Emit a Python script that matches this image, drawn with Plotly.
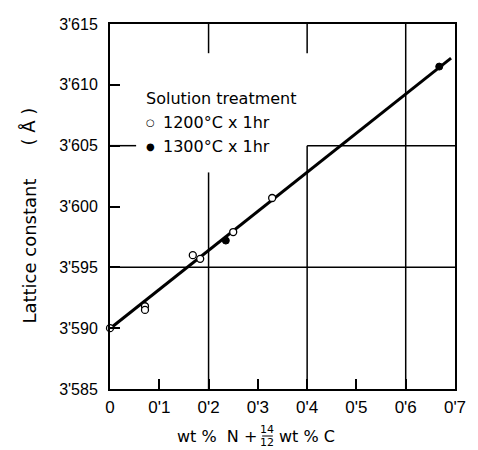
import plotly.graph_objects as go

# ---- data ----
open_x = [0.000, 0.071, 0.071, 0.168, 0.183, 0.250, 0.329]
open_y = [3.5900, 3.5918, 3.5915, 3.5960, 3.5957, 3.5979, 3.6007]
filled_x = [0.235, 0.668]
filled_y = [3.5972, 3.6115]
fit_x = [0.004, 0.692]
fit_y = [3.5901, 3.6122]

x_ticks = [0, 0.1, 0.2, 0.3, 0.4, 0.5, 0.6, 0.7]
x_ticktext = ["0", "0'1", "0'2", "0'3", "0'4", "0'5", "0'6", "0'7"]
y_ticks = [3.585, 3.590, 3.595, 3.600, 3.605, 3.610, 3.615]
y_ticktext = ["3'585", "3'590", "3'595", "3'600", "3'605", "3'610", "3'615"]

# partial grid / frame lines (x0, y0, x1, y1) in data units
grid_segments = [
    (0.2, 3.6028, 0.2, 3.585),
    (0.4, 3.605, 0.4, 3.585),
    (0.6, 3.615, 0.6, 3.585),
    (0.4, 3.605, 0.7, 3.605),
    (0.0, 3.605, 0.053, 3.605),
    (0.0, 3.595, 0.7, 3.595),
    (0.2, 3.615, 0.2, 3.6126),
    (0.4, 3.615, 0.4, 3.6126),
]

FONT = "Liberation Sans"
TFONT = "DejaVu Sans"
L, R, T, B = 110, 12, 24, 61
W, H = 478, 450
PW, PH = W - L - R, H - T - B


def px(xp):
    return (xp - L) / PW


def py(yp):
    return (H - B - yp) / PH


fig = go.Figure()
fig.add_trace(go.Scatter(x=fit_x, y=fit_y, mode="lines",
                         line=dict(color="black", width=3), showlegend=False,
                         hoverinfo="skip"))
fig.add_trace(go.Scatter(x=open_x, y=open_y, mode="markers", name="1200°C x 1hr",
                         marker=dict(symbol="circle", size=7, color="white",
                                     line=dict(color="black", width=1.3)),
                         cliponaxis=False, showlegend=False))
fig.add_trace(go.Scatter(x=filled_x, y=filled_y, mode="markers", name="1300°C x 1hr",
                         marker=dict(symbol="circle", size=7, color="black",
                                     line=dict(color="black", width=1)),
                         cliponaxis=False, showlegend=False))

shapes = []
for x0, y0, x1, y1 in grid_segments:
    shapes.append(dict(type="line", xref="x", yref="y", x0=x0, y0=y0, x1=x1, y1=y1,
                       line=dict(color="black", width=1.5)))
# fraction bar in x title
shapes.append(dict(type="line", xref="paper", yref="paper",
                   x0=px(267), x1=px(278), y0=py(436), y1=py(436),
                   line=dict(color="black", width=1)))

anns = [
    dict(text="Lattice constant", x=px(26), y=py(251), textangle=-90, size=18),
    dict(text="( Å )", x=px(26), y=py(127), textangle=-90, size=18),
    dict(text="Solution treatment", x=px(145), y=py(98), xanchor="left", size=16),
    dict(text="○", x=px(152), y=py(122), size=10),
    dict(text="1200°C x 1hr", x=px(163), y=py(122), xanchor="left", size=16),
    dict(text="●", x=px(152), y=py(146), size=10),
    dict(text="1300°C x 1hr", x=px(163), y=py(146), xanchor="left", size=16),
    dict(text="wt %  N +", x=px(264), y=py(437), xanchor="right", size=16),
    dict(text="14", x=px(272.5), y=py(429), size=11),
    dict(text="12", x=px(272.5), y=py(442), size=11),
    dict(text="wt % C", x=px(282), y=py(437), xanchor="left", size=16),
]
annotations = []
for a in anns:
    annotations.append(dict(text=a["text"], x=a["x"], y=a["y"], xref="paper", yref="paper",
                            xanchor=a.get("xanchor", "center"), yanchor="middle",
                            textangle=a.get("textangle", 0), showarrow=False,
                            font=dict(family=TFONT, size=a["size"], color="black")))

fig.update_layout(
    width=W, height=H,
    margin=dict(l=L, r=R, t=T, b=B, pad=0),
    paper_bgcolor="white", plot_bgcolor="white",
    showlegend=False,
    shapes=shapes,
    annotations=annotations,
    font=dict(family=FONT, color="black"),
    xaxis=dict(range=[0, 0.7], tickvals=x_ticks, ticktext=x_ticktext,
               ticks="inside", ticklen=10, tickwidth=1.5, tickcolor="black",
               showline=True, linecolor="black", linewidth=2, mirror=True,
               showgrid=False, zeroline=False, ticklabelstandoff=2,
               tickfont=dict(family=FONT, size=17, color="black")),
    yaxis=dict(range=[3.585, 3.615], tickvals=y_ticks, ticktext=y_ticktext,
               ticks="inside", ticklen=10, tickwidth=1.5, tickcolor="black",
               showline=True, linecolor="black", linewidth=2, mirror=True,
               showgrid=False, zeroline=False, ticklabelstandoff=7,
               tickfont=dict(family=FONT, size=16, color="black")),
)

fig.write_html("out.html")
